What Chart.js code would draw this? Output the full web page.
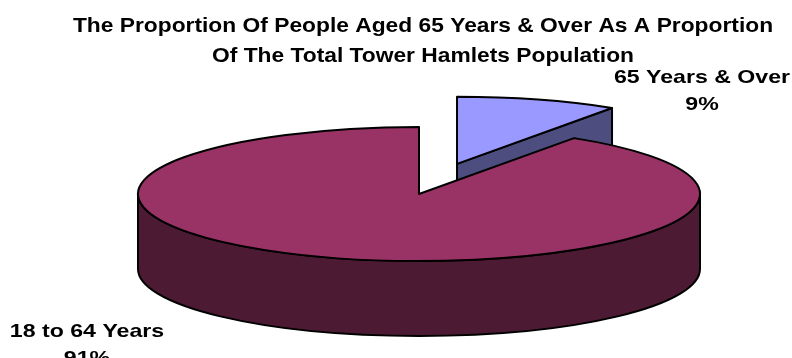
<!DOCTYPE html>
<html>
<head>
<meta charset="utf-8">
<script src="https://cdn.jsdelivr.net/npm/chart.js@4/dist/chart.umd.min.js"></script>
<style>
  html, body { margin: 0; padding: 0; background: #ffffff; overflow: hidden; }
  #wrap { width: 792px; height: 358px; position: relative; }
</style>
</head>
<body>
<div id="wrap"><canvas id="c" width="792" height="358"></canvas></div>
<script>
// ---------- data ----------
const categories = ['65 Years & Over', '18 to 64 Years'];
const values = [9.3, 90.7];
const titleLines = [
  'The Proportion Of People Aged 65 Years & Over As A Proportion',
  'Of The Total Tower Hamlets Population'
];

// ---------- style ----------
const topColors = ['#9999FF', '#993366'];
const sideColors = ['#4D4D80', '#4C1A33'];
const STYLE = { radius: 281, tilt: 67 / 281, depth: 75, explode: [132, 0], line: 2 };
const FONT_FAMILY = "'Liberation Sans', Arial, Helvetica, sans-serif";
const TITLE_STYLE = { size: 21, stretch: 1.085, x: 423, baselines: [31.7, 61.7] };
const LABEL_STYLE = { size: 18.5, stretch: 1.25, lineGap: 27.3,
  anchors: [{ x: 702, y: 82.7 }, { x: 87, y: 336.7 }] };

function drawText(ctx, text, x, y, size, sx) {
  ctx.save();
  ctx.translate(x, y);
  ctx.scale(sx, 1);
  ctx.font = 'bold ' + size + 'px ' + FONT_FAMILY;
  ctx.textAlign = 'center';
  ctx.textBaseline = 'alphabetic';
  ctx.fillStyle = '#000000';
  ctx.fillText(text, 0, 0);
  ctx.restore();
}

function drawSlice(ctx, arc, i) {
  const p = arc.getProps(['x', 'y', 'startAngle', 'endAngle', 'outerRadius'], false);
  const x = p.x, y = p.y, a = p.startAngle, b = p.endAngle, R = p.outerRadius;
  const k = STYLE.tilt, D = STYLE.depth, E = STYLE.explode[i] || 0;
  const h = (a + b) / 2;
  const cx = x + Math.cos(h) * E;
  const cy = y + Math.sin(h) * E * k;
  const P = (t, z) => [cx + R * Math.cos(t), cy + k * R * Math.sin(t) + z];

  ctx.save();
  ctx.lineWidth = STYLE.line;
  ctx.lineJoin = 'round';
  ctx.strokeStyle = '#000000';
  ctx.fillStyle = sideColors[i];

  // visible radial cut faces
  const faces = [];
  if (Math.cos(a) < -1e-6) faces.push(a);
  if (Math.cos(b) > 1e-6) faces.push(b);
  faces.forEach(t => {
    const p0 = P(t, 0), p1 = P(t, D);
    ctx.beginPath();
    ctx.moveTo(cx, cy);
    ctx.lineTo(p0[0], p0[1]);
    ctx.lineTo(p1[0], p1[1]);
    ctx.lineTo(cx, cy + D);
    ctx.closePath();
    ctx.fill();
    ctx.stroke();
  });

  // visible outer wall (front half)
  for (let n = -1; n <= 1; n++) {
    const s = Math.max(a, 2 * Math.PI * n);
    const e = Math.min(b, 2 * Math.PI * n + Math.PI);
    if (e - s > 1e-4) {
      ctx.beginPath();
      ctx.ellipse(cx, cy, R, k * R, 0, s, e, false);
      ctx.ellipse(cx, cy + D, R, k * R, 0, e, s, true);
      ctx.closePath();
      ctx.fill();
      ctx.stroke();
    }
  }

  // top face drawn by Chart.js arc element, tilted + exploded
  ctx.save();
  ctx.translate(cx - x, cy - y);
  ctx.translate(0, y);
  ctx.scale(1, k);
  ctx.translate(0, -y);
  arc.draw(ctx);
  ctx.beginPath();
  ctx.moveTo(x, y);
  ctx.arc(x, y, R, a, b, false);
  ctx.closePath();
  ctx.restore();
  ctx.stroke();

  ctx.restore();
}

const pie3dPlugin = {
  id: 'pie3d',
  beforeDatasetsDraw(chart) {
    const ctx = chart.ctx;
    const arcs = chart.getDatasetMeta(0).data;
    arcs.forEach((arc, i) => drawSlice(ctx, arc, i));
    return false;
  },
  afterDraw(chart) {
    const ctx = chart.ctx;
    titleLines.forEach((t, i) => drawText(ctx, t, TITLE_STYLE.x, TITLE_STYLE.baselines[i], TITLE_STYLE.size, TITLE_STYLE.stretch));
    const total = values.reduce((s, v) => s + v, 0);
    categories.forEach((c, i) => {
      const an = LABEL_STYLE.anchors[i];
      drawText(ctx, c, an.x, an.y, LABEL_STYLE.size, LABEL_STYLE.stretch);
      drawText(ctx, Math.round(values[i] / total * 100) + '%', an.x, an.y + LABEL_STYLE.lineGap, LABEL_STYLE.size, LABEL_STYLE.stretch);
    });
  }
};

new Chart(document.getElementById('c'), {
  type: 'pie',
  data: {
    labels: categories,
    datasets: [{
      data: values,
      backgroundColor: topColors,
      borderWidth: 0,
      radius: STYLE.radius
    }]
  },
  options: {
    responsive: false,
    animation: false,
    radius: STYLE.radius,
    layout: { padding: { left: 46, right: 0, top: 30, bottom: 0 } },
    plugins: {
      legend: { display: false },
      title: { display: false },
      tooltip: { enabled: false }
    }
  },
  plugins: [pie3dPlugin]
});
</script>
</body>
</html>
